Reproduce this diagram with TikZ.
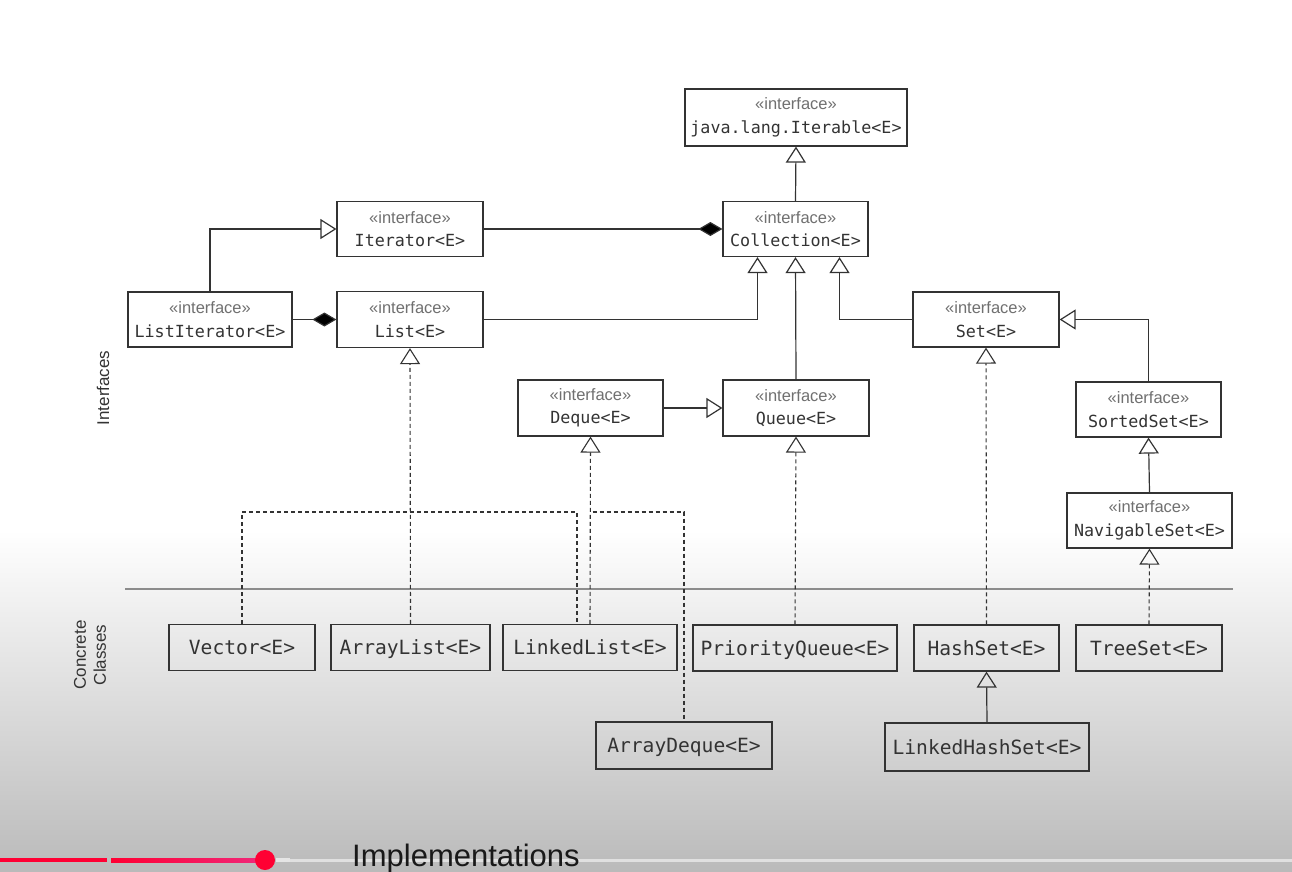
\documentclass[tikz,border=0pt]{standalone}
\usepackage{fontspec}
\setmainfont{Liberation Sans}
\newfontfamily\monofont{DejaVu Sans Mono}
\usetikzlibrary{arrows.meta,calc}
\definecolor{ink}{HTML}{333333}
\definecolor{stgray}{HTML}{707070}
\definecolor{ytred}{HTML}{FF0033}
\definecolor{ytpink}{HTML}{F0287A}
\newcommand\iface[1]{\fontsize{16.5}{24}\selectfont\color{stgray}«interface»\\\monofont\fontsize{16.7}{24}\selectfont\color{ink}#1}
\tikzset{
  ibox/.style={draw=ink, line width=1.2pt, inner sep=0pt, align=center, minimum height=55,
               font=\fontsize{16}{23.5}\selectfont},
  cbox/.style={draw=ink, line width=1.2pt, inner sep=0pt, minimum height=46, text=ink,
               text height=18pt, text depth=3.6pt,
               font=\monofont\fontsize{19.6}{24}\selectfont},
  gen/.style={draw=ink, line width=1.2pt, -{Triangle[open,length=16pt,width=20pt]}},
  comp/.style={draw=ink, line width=1.2pt, -{Diamond[length=24pt,width=14pt,fill=black]}},
  realz/.style={draw=ink, line width=1.1pt, dash pattern=on 4pt off 3pt},
  realtip/.style={realz, -{Triangle[open,length=16pt,width=20pt]}},
  sidelbl/.style={rotate=90, text=ink, font=\fontsize{17}{20}\selectfont, align=center},
}
\begin{document}
\begin{tikzpicture}[x=1pt,y=-1pt]
\useasboundingbox (0,0) rectangle (1292,871);
\fill[white] (0,0) rectangle (1292,531);
\shade[top color=white, bottom color=black!27] (0,530) rectangle (1292,871);

% interfaces
\node[ibox, minimum width=222, minimum height=57] (iterable) at (796,117.5) {\iface{java.lang.Iterable<E>}};
\node[ibox, minimum width=145] (coll)  at (795.5,229) {\iface{Collection<E>}};
\node[ibox, minimum width=146] (iter)  at (410,229)   {\iface{Iterator<E>}};
\node[ibox, minimum width=164] (liter) at (210,319.5)   {\iface{ListIterator<E>}};
\node[ibox, minimum width=146, minimum height=56] (list) at (410,319.5) {\iface{List<E>}};
\node[ibox, minimum width=146] (set)   at (986,319.5)   {\iface{Set<E>}};
\node[ibox, minimum width=145] (sset)  at (1148.5,409.5) {\iface{SortedSet<E>}};
\node[ibox, minimum width=165] (nset)  at (1149.5,520.5) {\iface{NavigableSet<E>}};
\node[ibox, minimum width=145, minimum height=56] (deque) at (590.5,408) {\iface{Deque<E>}};
\node[ibox, minimum width=146, minimum height=56] (queue) at (796,408)   {\iface{Queue<E>}};

% separator and side labels
\draw[draw=black!45, line width=1.4pt] (125,589) -- (1233,589);
\node[sidelbl] (lblI) at (103,388) {Interfaces};
\node[sidelbl] (lblC) at (90,655) {Concrete\\Classes};

% concrete classes
\node[cbox, minimum width=146] (vector) at (242,647.5)   {Vector<E>};
\node[cbox, minimum width=159] (alist)  at (410.5,647.5) {ArrayList<E>};
\node[cbox, minimum width=174] (llist)  at (590,647.5)   {LinkedList<E>};
\node[cbox, minimum width=204] (pq)     at (795,648)     {PriorityQueue<E>};
\node[cbox, minimum width=145] (hset)   at (986.5,648)   {HashSet<E>};
\node[cbox, minimum width=146] (tset)   at (1149,648)    {TreeSet<E>};
\node[cbox, minimum width=176, minimum height=47] (adeque) at (684,745.5) {ArrayDeque<E>};
\node[cbox, minimum width=204, minimum height=48] (lhset)  at (987,747)   {LinkedHashSet<E>};

% generalisations
\draw[gen] (coll.north) -- (iterable.south);
\draw[gen] (list.east) -| ([xshift=-38pt]coll.south);
\draw[gen] (queue.north) -- (coll.south);
\draw[gen] (set.west) -| ([xshift=44pt]coll.south);
\draw[gen] (liter.north) |- (iter.west);
\draw[gen] (deque.east) -- (queue.west);
\draw[gen] (sset.north) |- (set.east);
\draw[gen] (nset.north) -- (sset.south);
\draw[gen] (lhset.north) -- (hset.south);

% compositions
\draw[comp] (iter.east) -- (coll.west);
\draw[comp] (liter.east) -- (list.west);

% realisations
\coordinate (j1) at (577,512);
\coordinate (j2) at (684,512);
\draw[realtip] (alist.north) -- (list.south);
\draw[realz] (vector.north) |- (j1) -- (j1 |- llist.north);
\draw[realtip] (llist.north) -- (deque.south);
\draw[realz] ([xshift=2pt]deque.south |- j2) -- (j2) -- (adeque.north);
\draw[realtip] (pq.north) -- (queue.south);
\draw[realtip] (hset.north) -- (set.south);
\draw[realtip] (tset.north) -- (nset.south);

% video progress bar
\fill[black!12] (276,858.5) rectangle (1292,861.5);
\fill[white!80!gray] (276,858) rectangle (290,862);
\fill[ytred] (0,858) rectangle (107,862);
\shade[left color=ytred, right color=ytpink] (111,858) rectangle (262,862);
\fill[ytred] (265,860) circle (10);
\node[anchor=base west, inner sep=0pt, text=black!90, font=\fontsize{31}{31}\selectfont] (impl) at (352,866) {Implementations};
\end{tikzpicture}
\end{document}
